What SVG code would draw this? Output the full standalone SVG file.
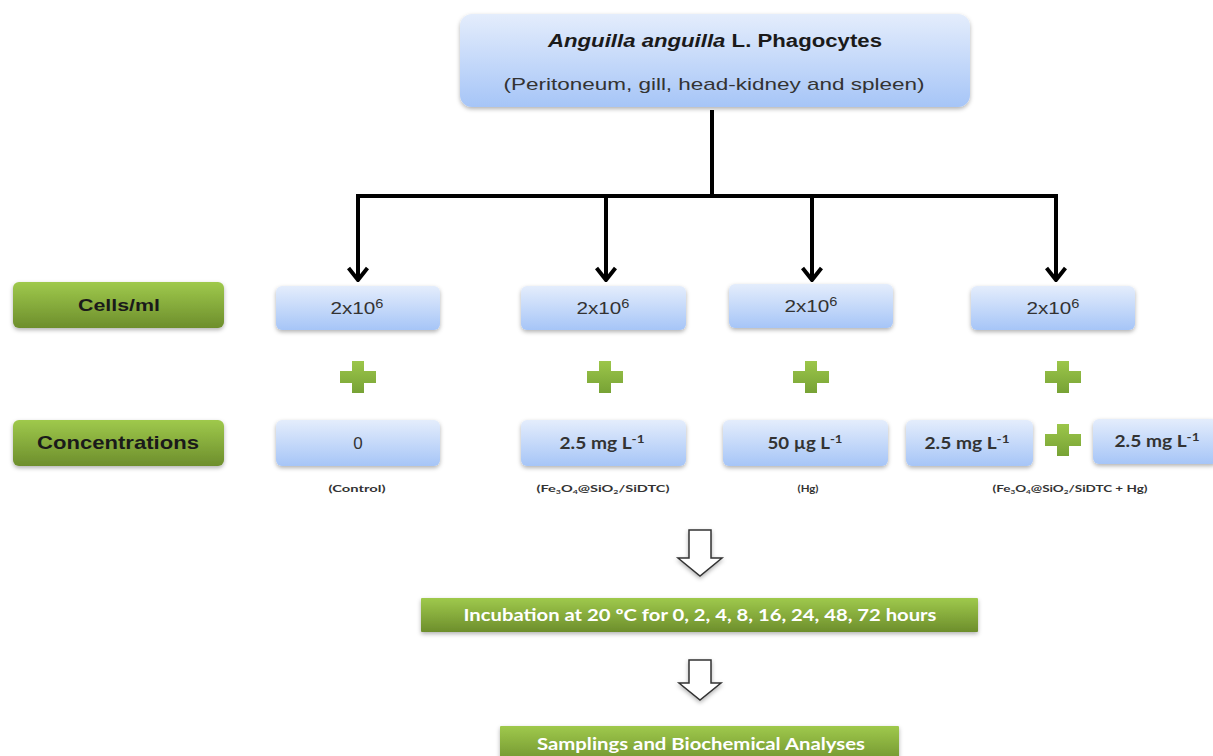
<svg xmlns="http://www.w3.org/2000/svg" width="1213" height="756" viewBox="0 0 1213 756">
<defs>
<linearGradient id="blue" x1="0" y1="0" x2="0" y2="1">
<stop offset="0" stop-color="#e4edfc"/>
<stop offset="1" stop-color="#a6c5f7"/>
</linearGradient>
<linearGradient id="green" x1="0" y1="0" x2="0" y2="1">
<stop offset="0" stop-color="#9fc94c"/>
<stop offset="1" stop-color="#6d8e2c"/>
</linearGradient>
<linearGradient id="plusg" x1="0" y1="0" x2="0" y2="1">
<stop offset="0" stop-color="#9cc64a"/>
<stop offset="1" stop-color="#77a235"/>
</linearGradient>
<filter id="sh" x="-10%" y="-20%" width="120%" height="150%">
<feDropShadow dx="0" dy="2" stdDeviation="2" flood-color="#000" flood-opacity="0.3"/>
</filter>
<marker id="chev" viewBox="0 0 16 22" refX="14" refY="11" markerWidth="16" markerHeight="22" markerUnits="userSpaceOnUse" orient="auto">
<path d="M2,1.5 L14,11 L2,20.5" fill="none" stroke="#000" stroke-width="4"/>
</marker>
<symbol id="plus" viewBox="0 0 36 32">
<path d="M12,0 H24 V10 H36 V22 H24 V32 H12 V22 H0 V10 H12 Z" fill="url(#plusg)"/>
</symbol>
</defs>
<style>
.bbox{fill:url(#blue);filter:url(#sh);}
.gbox{fill:url(#green);filter:url(#sh);}
.arial{font-family:"Liberation Sans",Arial,sans-serif;}
.lbl{font-family:"Liberation Sans",Arial,sans-serif;font-size:17px;fill:#333;text-anchor:middle;}
.val{font-family:Lato,"Open Sans",sans-serif;font-size:17px;font-weight:bold;fill:#333;text-anchor:middle;}
.sub{font-family:Lato,"Open Sans",sans-serif;font-size:10px;font-weight:bold;fill:#333;text-anchor:middle;}
.glbl{font-family:"Liberation Sans",Arial,sans-serif;font-weight:bold;fill:#1a1a1a;text-anchor:middle;}
.wlbl{font-family:Lato,"Open Sans",sans-serif;font-weight:bold;fill:#fff;text-anchor:middle;font-size:17px;}
.conn{fill:none;stroke:#000;stroke-width:4;}
.hollow{fill:#fff;stroke:#333;stroke-width:1.5;filter:url(#sh);}
</style>

<g id="connectors">
<path class="conn" d="M712,110 V196"/>
<path class="conn" d="M356,196 H1058"/>
<path class="conn" d="M358,196 V280" marker-end="url(#chev)"/>
<path class="conn" d="M606,196 V280" marker-end="url(#chev)"/>
<path class="conn" d="M812,196 V280" marker-end="url(#chev)"/>
<path class="conn" d="M1056,196 V280" marker-end="url(#chev)"/>
<path class="hollow" d="M689,530 H711 V558 H722 L700,576 L678,558 H689 Z"/>
<path class="hollow" d="M689,660 H711 V683 H721 L700,700 L679,683 H689 Z"/>
</g>

<g id="top">
<rect class="bbox" x="460" y="14" width="510" height="93" rx="12"/>
<text x="715" y="47" class="arial" font-size="18" font-weight="bold" fill="#1a1a1a" text-anchor="middle" textLength="334" lengthAdjust="spacingAndGlyphs"><tspan font-style="italic">Anguilla anguilla</tspan> L. Phagocytes</text>
<text x="714" y="90" class="lbl" font-size="18" textLength="421" lengthAdjust="spacingAndGlyphs">(Peritoneum, gill, head-kidney and spleen)</text>
</g>

<g id="cells-label">
<rect class="gbox" x="13" y="282" width="211" height="46" rx="6"/>
<text x="119" y="311" class="glbl" font-size="17" textLength="82" lengthAdjust="spacingAndGlyphs">Cells/ml</text>
</g>
<g id="conc-label">
<rect class="gbox" x="13" y="420" width="211" height="46" rx="6"/>
<text x="118" y="449" class="glbl" font-size="19" textLength="162" lengthAdjust="spacingAndGlyphs">Concentrations</text>
</g>

<g id="cells1">
<rect class="bbox" x="276" y="286" width="164" height="44" rx="6"/>
<text x="357" y="314" class="lbl" font-size="17" textLength="53" lengthAdjust="spacingAndGlyphs">2x10<tspan dy="-6" font-size="12">6</tspan></text>
</g>
<g id="cells2">
<rect class="bbox" x="521" y="286" width="165" height="44" rx="6"/>
<text x="603" y="314" class="lbl" font-size="17" textLength="53" lengthAdjust="spacingAndGlyphs">2x10<tspan dy="-6" font-size="12">6</tspan></text>
</g>
<g id="cells3">
<rect class="bbox" x="729" y="284" width="164" height="44" rx="6"/>
<text x="811" y="312" class="lbl" font-size="17" textLength="53" lengthAdjust="spacingAndGlyphs">2x10<tspan dy="-6" font-size="12">6</tspan></text>
</g>
<g id="cells4">
<rect class="bbox" x="971" y="286" width="164" height="44" rx="6"/>
<text x="1053" y="314" class="lbl" font-size="17" textLength="53" lengthAdjust="spacingAndGlyphs">2x10<tspan dy="-6" font-size="12">6</tspan></text>
</g>

<g id="plus1"><use href="#plus" x="340" y="361" width="36" height="32"/></g>
<g id="plus2"><use href="#plus" x="587" y="361" width="36" height="32"/></g>
<g id="plus3"><use href="#plus" x="793" y="361" width="36" height="32"/></g>
<g id="plus4"><use href="#plus" x="1045" y="361" width="36" height="32"/></g>
<g id="plus5"><use href="#plus" x="1045" y="424" width="36" height="32"/></g>

<g id="conc1">
<rect class="bbox" x="276" y="420" width="164" height="46" rx="6"/>
<text x="358" y="449" class="lbl" font-size="17">0</text>
<text x="357" y="492" class="sub" textLength="57" lengthAdjust="spacingAndGlyphs">(Control)</text>
</g>
<g id="conc2">
<rect class="bbox" x="521" y="420" width="165" height="46" rx="6"/>
<text x="602" y="449" class="val" textLength="85" lengthAdjust="spacingAndGlyphs">2.5 mg L<tspan dy="-6" font-size="12">-1</tspan></text>
<text x="603" y="492" class="sub" textLength="133" lengthAdjust="spacingAndGlyphs">(Fe<tspan font-size="6" dy="2">3</tspan><tspan dy="-2">O</tspan><tspan font-size="6" dy="2">4</tspan><tspan dy="-2">@SiO</tspan><tspan font-size="6" dy="2">2</tspan><tspan dy="-2">/SiDTC)</tspan></text>
</g>
<g id="conc3">
<rect class="bbox" x="723" y="420" width="165" height="46" rx="6"/>
<text x="805" y="449" class="val" textLength="75" lengthAdjust="spacingAndGlyphs">50 µg L<tspan dy="-6" font-size="12">-1</tspan></text>
<text x="808" y="492" class="sub" textLength="21" lengthAdjust="spacingAndGlyphs">(Hg)</text>
</g>
<g id="conc4">
<rect class="bbox" x="906" y="420" width="127" height="46" rx="6"/>
<text x="967" y="449" class="val" textLength="85" lengthAdjust="spacingAndGlyphs">2.5 mg L<tspan dy="-6" font-size="12">-1</tspan></text>
</g>
<g id="conc5">
<rect class="bbox" x="1093" y="419" width="125" height="45" rx="6"/>
<text x="1157" y="447" class="val" textLength="85" lengthAdjust="spacingAndGlyphs">2.5 mg L<tspan dy="-6" font-size="12">-1</tspan></text>
<text x="1070" y="492" class="sub" textLength="155" lengthAdjust="spacingAndGlyphs">(Fe<tspan font-size="6" dy="2">3</tspan><tspan dy="-2">O</tspan><tspan font-size="6" dy="2">4</tspan><tspan dy="-2">@SiO</tspan><tspan font-size="6" dy="2">2</tspan><tspan dy="-2">/SiDTC + Hg)</tspan></text>
</g>

<g id="incubation">
<rect class="gbox" x="421" y="598" width="557" height="34" rx="1"/>
<text x="700" y="621" class="wlbl" textLength="473" lengthAdjust="spacingAndGlyphs">Incubation at 20 ºC for 0, 2, 4, 8, 16, 24, 48, 72 hours</text>
</g>
<g id="samplings">
<rect class="gbox" x="500" y="726" width="399" height="40" rx="1"/>
<text x="701" y="750" class="wlbl" textLength="328" lengthAdjust="spacingAndGlyphs">Samplings and Biochemical Analyses</text>
</g>
</svg>
